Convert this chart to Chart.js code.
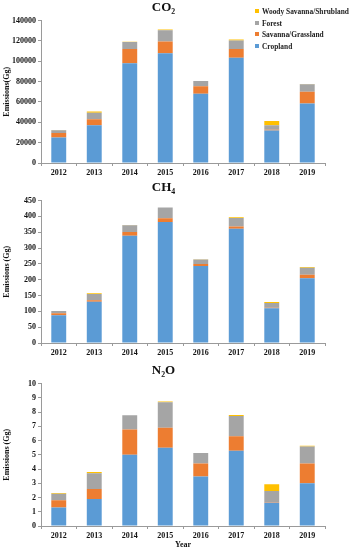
<!DOCTYPE html>
<html>
<head>
<meta charset="utf-8">
<script src="https://cdn.jsdelivr.net/npm/chart.js@4.4.1/dist/chart.umd.min.js"></script>
<style>
  html, body { margin: 0; padding: 0; background: #fff; }
  #wrap { position: relative; width: 350px; height: 550px; overflow: hidden; }
  .box { position: absolute; left: 0; width: 350px; }
  #legend { position: absolute; left: 255px; top: 6px; font: bold 7.4px "Liberation Serif", serif; color: #222; }
  #legend div { height: 11.6px; line-height: 11.6px; white-space: nowrap; }
  #legend span { display: inline-block; width: 4px; height: 4px; margin-right: 3px; vertical-align: 1px; }
</style>
</head>
<body>
<div id="wrap">
  <div class="box" style="top:0;height:180px"><canvas id="co2"></canvas></div>
  <div class="box" style="top:180px;height:180px"><canvas id="ch4"></canvas></div>
  <div class="box" style="top:363px;height:187px"><canvas id="n2o"></canvas></div>
  <div id="legend"></div>
</div>
<script>
(() => {

  // data
  const years = ['2012', '2013', '2014', '2015', '2016', '2017', '2018', '2019'];
  const landTypes = ['Cropland', 'Savanna/Grassland', 'Forest', 'Woody Savanna/Shrubland'];
  const landColors = ['#5B9BD5', '#ED7D31', '#A5A5A5', '#FFC000'];

  const co2Cropland = [25000, 37000, 98000, 108000, 68000, 103500, 32000, 58500];
  const co2Savanna  = [4500, 6000, 14000, 11500, 7500, 8500, 700, 11500];
  const co2Forest   = [2700, 6500, 7000, 11000, 5000, 8500, 4500, 7500];
  const co2Woody    = [200, 1200, 200, 700, 0, 800, 4000, 200];

  const ch4Cropland = [88, 130, 339, 382, 243, 361, 110, 205];
  const ch4Savanna  = [6, 5, 12, 12, 7, 7, 1.5, 11];
  const ch4Forest   = [7, 20, 21, 34, 14, 27, 15, 22];
  const ch4Woody    = [0.5, 2, 0.5, 0.5, 0.5, 2, 3, 2];

  const n2oCropland = [1.3, 1.9, 5.0, 5.5, 3.47, 5.28, 1.64, 3.0];
  const n2oSavanna  = [0.5, 0.7, 1.78, 1.4, 0.92, 1.03, 0.03, 1.39];
  const n2oForest   = [0.47, 1.11, 0.99, 1.79, 0.73, 1.41, 0.79, 1.2];
  const n2oWoody    = [0.04, 0.09, 0.01, 0.05, 0, 0.07, 0.47, 0.04];

  const font = 'Liberation Serif';
  const axisColor = '#9a9a9a';

  function makeChart(id, title, series, yMax, yStep, yTitle, xTitle, xHeight) {
    const datasets = series.map((data, i) => ({
      label: landTypes[i],
      data: data,
      backgroundColor: landColors[i],
      borderWidth: 0,
      barPercentage: 0.42,
      categoryPercentage: 1
    }));

    return new Chart(document.getElementById(id), {
      type: 'bar',
      data: { labels: years, datasets: datasets },
      options: {
        responsive: true,
        maintainAspectRatio: false,
        animation: false,
        layout: { padding: { left: 2, right: 25, top: 0, bottom: 0 } },
        plugins: {
          legend: { display: false },
          tooltip: { enabled: false },
          title: {
            display: true,
            text: title,
            color: '#111',
            font: { family: font, size: 13, weight: 'bold', lineHeight: 1.2 },
            padding: { top: 0, bottom: 5 }
          }
        },
        scales: {
          x: {
            stacked: true,
            border: { color: axisColor },
            grid: { display: true, drawOnChartArea: false, drawTicks: true, tickLength: 3, color: axisColor, offset: true },
            ticks: { color: '#111', font: { family: font, size: 8, weight: 'bold' }, padding: 2, maxRotation: 0 },
            title: {
              display: !!xTitle,
              text: xTitle || '',
              color: '#111',
              font: { family: font, size: 8, weight: 'bold' },
              padding: 0
            },
            afterFit: (scale) => { scale.height = xHeight; }
          },
          y: {
            stacked: true,
            min: 0,
            max: yMax,
            border: { color: axisColor },
            grid: { display: true, drawOnChartArea: false, drawTicks: true, tickLength: 3, color: axisColor },
            ticks: {
              stepSize: yStep,
              color: '#111',
              font: { family: font, size: 8, weight: 'bold' },
              padding: 2,
              callback: (v) => String(v)
            },
            title: {
              display: true,
              text: yTitle,
              color: '#111',
              font: { family: font, size: 8, weight: 'bold' },
              padding: 0
            },
            afterFit: (scale) => { scale.width = 39; }
          }
        }
      }
    });
  }

  makeChart('co2', 'CO₂', [co2Cropland, co2Savanna, co2Forest, co2Woody], 140000, 20000, 'Emissions(Gg)', null, 17);
  makeChart('ch4', 'CH₄', [ch4Cropland, ch4Savanna, ch4Forest, ch4Woody], 450, 50, 'Emissions (Gg)', null, 17);
  makeChart('n2o', 'N₂O', [n2oCropland, n2oSavanna, n2oForest, n2oWoody], 10, 1, 'Emissions (Gg)', 'Year', 24);

  // legend, reversed like the original (top series first)
  const legend = document.getElementById('legend');
  for (let i = landTypes.length - 1; i >= 0; i--) {
    const row = document.createElement('div');
    const sw = document.createElement('span');
    sw.style.background = landColors[i];
    row.appendChild(sw);
    row.appendChild(document.createTextNode(landTypes[i]));
    legend.appendChild(row);
  }

})();
</script>
</body>
</html>
